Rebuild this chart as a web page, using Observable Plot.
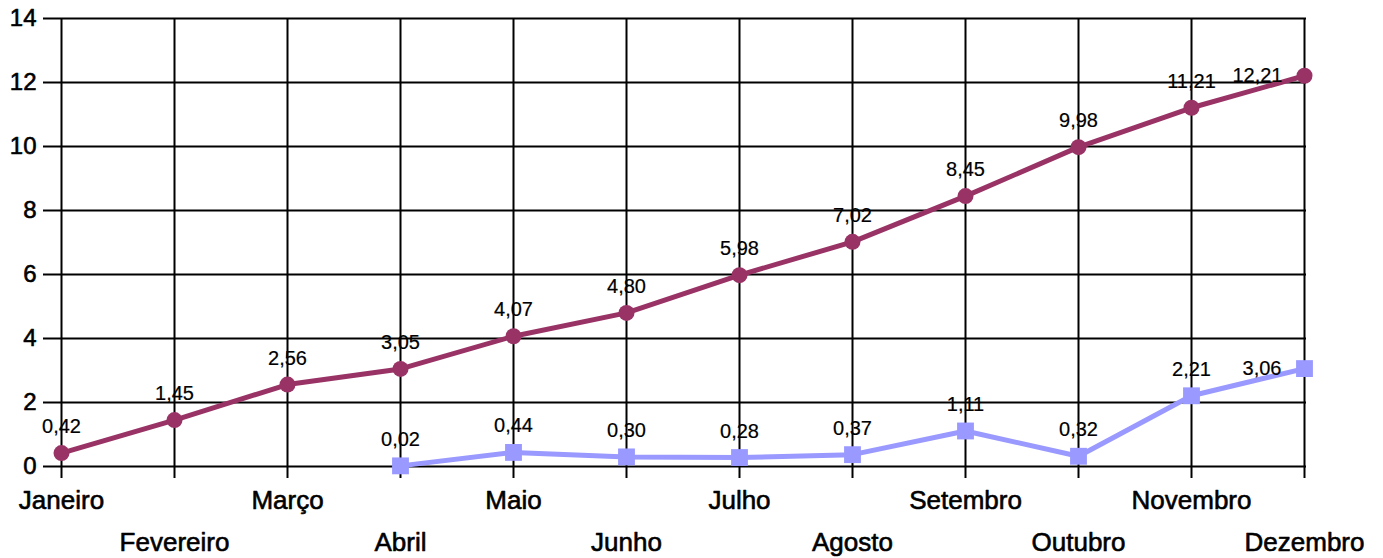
<!DOCTYPE html>
<html><head><meta charset="utf-8">
<script src="https://cdn.jsdelivr.net/npm/d3@7"></script>
<script src="https://cdn.jsdelivr.net/npm/@observablehq/plot@0.6"></script>
<style>body{margin:0;background:#fff}</style>
</head><body><div id="chart"></div>
<script>
const months = ["Janeiro","Fevereiro","Março","Abril","Maio","Junho","Julho","Agosto","Setembro","Outubro","Novembro","Dezembro"];
const seriesA = [0.42,1.45,2.56,3.05,4.07,4.80,5.98,7.02,8.45,9.98,11.21,12.21];
const seriesB = [null,null,null,0.02,0.44,0.30,0.28,0.37,1.11,0.32,2.21,3.06];
const yTicks = [0,2,4,6,8,10,12,14];

const dataA = months.map((m,i)=>({month:m, value:seriesA[i]}));
const dataB = months.map((m,i)=>({month:m, value:seriesB[i]})).filter(d=>d.value!=null);
const fmt = v => d3.format(".2f")(v).replace(".", ",");
const last = months[months.length-1];
const rowTop = months.filter((m,i)=>i%2===0);
const rowBottom = months.filter((m,i)=>i%2===1);
const font = "Liberation Sans, Arial, sans-serif";

const chart = Plot.plot({
  width: 1383, height: 558,
  marginTop: 18, marginBottom: 92, marginLeft: 58, marginRight: 77,
  style: {fontFamily: font, background: "#fff", color: "#000"},
  x: {type: "point", domain: months, padding: 0, axis: null},
  y: {domain: [0,14], axis: null},
  marks: [
    Plot.gridX(months, {stroke: "#000", strokeOpacity: 1, strokeWidth: 2}),
    Plot.gridY(yTicks, {stroke: "#000", strokeOpacity: 1, strokeWidth: 2}),
    Plot.axisY(yTicks, {tickSize: 15, tickFormat: () => "", stroke: "#000", strokeWidth: 2, label: null}),
    Plot.text(yTicks, {y: d=>d, frameAnchor: "left", textAnchor: "end", dx: -22, fontSize: 24, text: d=>String(d), fill: "#000", stroke: "#000", strokeWidth: 0.6}),
    Plot.axisX(months, {tickSize: 12, tickFormat: () => "", stroke: "#000", strokeWidth: 2, label: null}),
    Plot.text(rowTop, {x: d=>d, frameAnchor: "bottom", lineAnchor: "bottom", dy: 42, fontSize: 26, text: d=>d, fill: "#000", stroke: "#000", strokeWidth: 0.6}),
    Plot.text(rowBottom, {x: d=>d, frameAnchor: "bottom", lineAnchor: "bottom", dy: 84, fontSize: 26, text: d=>d, fill: "#000", stroke: "#000", strokeWidth: 0.6}),
    Plot.line(dataB, {x: "month", y: "value", stroke: "#9999ff", strokeWidth: 5}),
    Plot.dot(dataB, {x: "month", y: "value", symbol: "square", r: 9.5, fill: "#9999ff"}),
    Plot.line(dataA, {x: "month", y: "value", stroke: "#993366", strokeWidth: 5}),
    Plot.dot(dataA, {x: "month", y: "value", r: 8, fill: "#993366"}),
    Plot.text(dataA.filter(d=>d.month!==last), {x: "month", y: "value", text: d=>fmt(d.value), lineAnchor: "bottom", dy: -20, fontSize: 20, fill: "#000", stroke: "#000", strokeWidth: 0.2}),
    Plot.text(dataB.filter(d=>d.month!==last), {x: "month", y: "value", text: d=>fmt(d.value), lineAnchor: "bottom", dy: -20, fontSize: 20, fill: "#000", stroke: "#000", strokeWidth: 0.2}),
    Plot.text(dataA.filter(d=>d.month===last), {x: "month", y: "value", text: d=>fmt(d.value), textAnchor: "end", lineAnchor: "middle", dx: -22, fontSize: 20, fill: "#000", stroke: "#000", strokeWidth: 0.2}),
    Plot.text(dataB.filter(d=>d.month===last), {x: "month", y: "value", text: d=>fmt(d.value), textAnchor: "end", lineAnchor: "middle", dx: -23, fontSize: 20, fill: "#000", stroke: "#000", strokeWidth: 0.2})
  ]
});
document.getElementById("chart").appendChild(chart);
</script>
</body></html>
